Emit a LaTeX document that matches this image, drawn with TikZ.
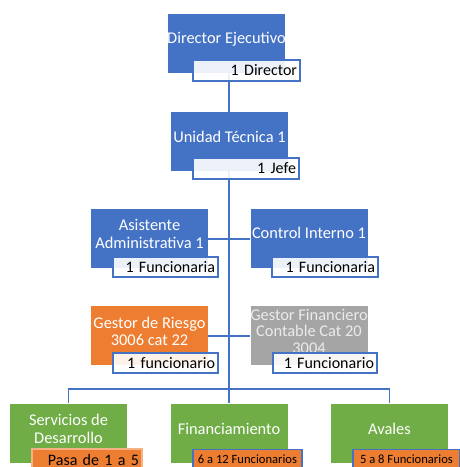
\documentclass[tikz,border=0pt]{standalone}
\usepackage{fontspec}
\setmainfont{Carlito}
\definecolor{cblue}{HTML}{4472C4}
\definecolor{corange}{HTML}{ED7D31}
\definecolor{cgray}{HTML}{A5A5A5}
\definecolor{cgreen}{HTML}{70AD47}
\tikzset{
  mainbox/.style={draw=none, minimum width=117pt, minimum height=59pt, inner sep=0pt},
  maintext/.style={text=white, font=\fontsize{16.4}{17.5}\selectfont, align=center, inner sep=0pt},
  tagbox/.style={draw=cblue, line width=1.3pt, fill=white, fill opacity=0.9, text opacity=1,
     font=\fontsize{16}{17}\selectfont, align=right, inner xsep=3pt, inner ysep=0pt,
     minimum height=20pt},
  smalltag/.style={draw=cblue, line width=1.3pt, fill=corange, font=\fontsize{12.6}{14}\selectfont,
     inner xsep=1pt, inner ysep=0pt, minimum height=20pt},
  conn/.style={draw=cblue, line width=1.5pt},
}
\begin{document}
\begin{tikzpicture}[x=1pt,y=-1pt]
\useasboundingbox (0,0) rectangle (459,467);
\coordinate (bus) at (229,389);
% boxes
\node[mainbox, fill=cblue] (dir) at (226.5,43) {};
\node[mainbox, fill=cblue] (ut) at (229.5,141) {};
\node[mainbox, fill=cblue] (asis) at (149.5,238.5) {};
\node[mainbox, fill=cblue] (ctrl) at (309,238.5) {};
\node[mainbox, fill=corange] (riesgo) at (149.5,335.5) {};
\node[mainbox, fill=cgray] (gfin) at (309,335.5) {};
\node[mainbox, fill=cgreen] (serv) at (68.5,433) {};
\node[mainbox, fill=cgreen] (fin) at (229,433) {};
\node[mainbox, fill=cgreen] (aval) at (389.5,433) {};
% connectors
\draw[conn] (229,73) -- (229,112);
\draw[conn] (229,170) -- (bus);
\draw[conn] (asis.east |- 0,239) -- (ctrl.west |- 0,239);
\draw[conn] (riesgo.east |- 0,336) -- (gfin.west |- 0,336);
\draw[conn] (serv.north) |- (bus) -| (aval.north);
\draw[conn] (bus) -- (fin.north);
% texts
\node[maintext] (dirT) at (226.5,39) {Director Ejecutivo};
\node[maintext] (utT) at (229.5,137) {Unidad Técnica 1};
\node[maintext] (asisT) at (149.5,234) {Asistente\\Administrativa 1};
\node[maintext] (ctrlT) at (309,233) {Control Interno 1};
\node[maintext] (riesgoT) at (149.5,331.5) {Gestor de Riesgo\\3006 cat 22};
\node[maintext, text=white!92!black, font=\fontsize{16.4}{16.5}\selectfont] (gfinT) at (309,331) {Gestor Financiero\\Contable Cat 20\\3004};
\node[maintext] (servT) at (68.5,429) {Servicios de\\Desarrollo};
\node[maintext] (finT) at (229,429) {Financiamiento};
\node[maintext] (avalT) at (389.5,429) {Avales};
% tags
\node[tagbox, text width=101pt, minimum height=21pt] (dirL) at (246.5,70.5) {1 Director};
\node[tagbox, text width=100pt, minimum height=21pt] (utL) at (246,168.5) {1 Jefe};
\node[tagbox, text width=99pt] (asisL) at (165.5,267) {1 Funcionaria};
\node[tagbox, text width=100pt] (ctrlL) at (325,267) {1 Funcionaria};
\node[tagbox, text width=99pt] (riesgoL) at (165.5,363) {1 funcionario};
\node[tagbox, text width=98pt] (gfinL) at (325,363) {1 Funcionario};
\node[tagbox, fill=corange, fill opacity=1, draw=corange!60!white, text width=104pt, minimum height=22pt] (servL) at (87,460) {Pasa de 1 a 5};
\node[smalltag, minimum width=109pt] (finL) at (247.5,459.5) {6 a 12 Funcionarios};
\node[smalltag, minimum width=107pt] (avalL) at (406.5,459.5) {5 a 8 Funcionarios};
\end{tikzpicture}
\end{document}
